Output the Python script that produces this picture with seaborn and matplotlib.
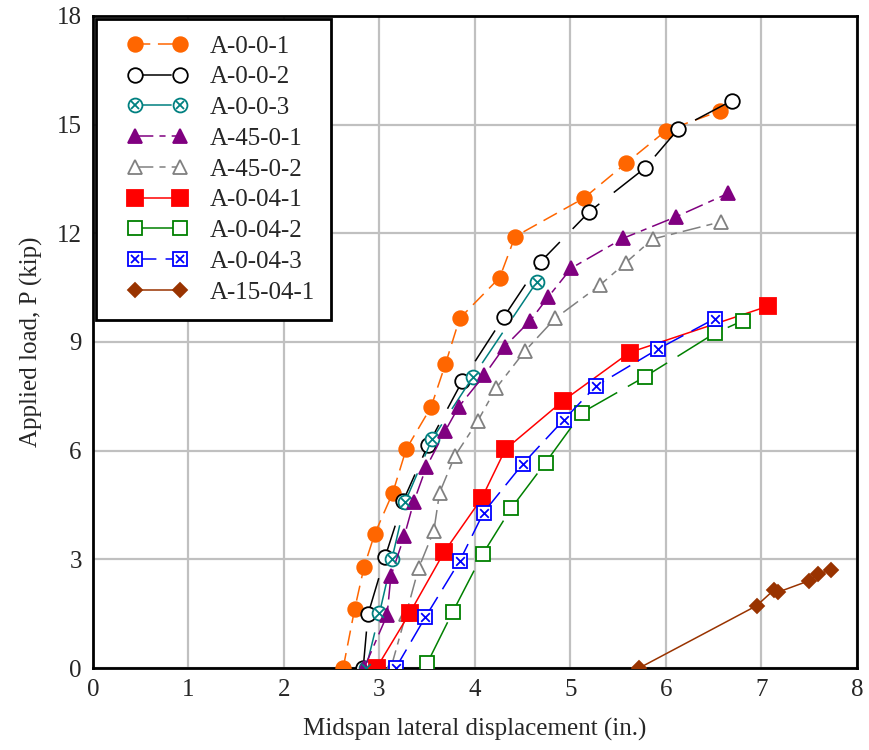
import matplotlib
matplotlib.use("Agg")
import matplotlib.pyplot as plt
import seaborn as sns
import pandas as pd
from matplotlib.lines import Line2D
from matplotlib.legend_handler import HandlerLine2D, HandlerTuple

# Load-displacement readings for each specimen (displacement in in., load in kip)
a_0_0_1_x = [2.62, 2.74, 2.84, 2.95, 3.14, 3.28, 3.54, 3.69, 3.84, 4.26, 4.42, 5.14, 5.58, 6.00, 6.57]
a_0_0_1_y = [0.00, 1.62, 2.80, 3.70, 4.84, 6.04, 7.20, 8.38, 9.65, 10.78, 11.91, 12.97, 13.93, 14.83, 15.38]

a_0_0_2_x = [2.83, 2.88, 3.06, 3.25, 3.51, 3.87, 4.30, 4.69, 5.20, 5.78, 6.13, 6.69]
a_0_0_2_y = [0.00, 1.48, 3.07, 4.62, 6.16, 7.93, 9.68, 11.22, 12.60, 13.80, 14.88, 15.66]

a_0_0_3_x = [2.86, 3.00, 3.13, 3.27, 3.55, 3.98, 4.65]
a_0_0_3_y = [0.00, 1.51, 3.00, 4.59, 6.31, 8.04, 10.67]

a_45_0_1_x = [2.84, 3.08, 3.12, 3.26, 3.36, 3.49, 3.69, 3.83, 4.10, 4.31, 4.58, 4.77, 5.01, 5.55, 6.11, 6.65]
a_45_0_1_y = [0.00, 1.46, 2.54, 3.64, 4.59, 5.54, 6.55, 7.21, 8.09, 8.87, 9.59, 10.25, 11.04, 11.86, 12.46, 13.10]

a_45_0_2_x = [3.12, 3.28, 3.41, 3.57, 3.63, 3.79, 4.03, 4.22, 4.52, 4.84, 5.31, 5.58, 5.86, 6.58]
a_45_0_2_y = [0.00, 1.50, 2.75, 3.79, 4.84, 5.85, 6.82, 7.72, 8.74, 9.65, 10.57, 11.19, 11.84, 12.32]

a_0_04_1_x = [2.97, 3.32, 3.68, 4.07, 4.32, 4.92, 5.62, 7.07]
a_0_04_1_y = [0.00, 1.53, 3.21, 4.68, 6.04, 7.37, 8.71, 9.99]

a_0_04_2_x = [3.50, 3.77, 4.08, 4.38, 4.74, 5.12, 5.78, 6.51, 6.81]
a_0_04_2_y = [0.13, 1.56, 3.14, 4.41, 5.67, 7.05, 8.04, 9.24, 9.59]

a_0_04_3_x = [3.17, 3.48, 3.84, 4.09, 4.50, 4.93, 5.27, 5.92, 6.51]
a_0_04_3_y = [0.00, 1.40, 2.95, 4.29, 5.63, 6.85, 7.79, 8.81, 9.64]

a_15_04_1_x = [5.72, 6.95, 7.13, 7.17, 7.50, 7.59, 7.73]
a_15_04_1_y = [0.00, 1.72, 2.15, 2.09, 2.41, 2.59, 2.71]

labels = ["A-0-0-1", "A-0-0-2", "A-0-0-3", "A-45-0-1", "A-45-0-2",
          "A-0-04-1", "A-0-04-2", "A-0-04-3", "A-15-04-1"]
xs = [a_0_0_1_x, a_0_0_2_x, a_0_0_3_x, a_45_0_1_x, a_45_0_2_x,
      a_0_04_1_x, a_0_04_2_x, a_0_04_3_x, a_15_04_1_x]
ys = [a_0_0_1_y, a_0_0_2_y, a_0_0_3_y, a_45_0_1_y, a_45_0_2_y,
      a_0_04_1_y, a_0_04_2_y, a_0_04_3_y, a_15_04_1_y]

x_ticks = [0, 1, 2, 3, 4, 5, 6, 7, 8]
y_ticks = [0, 3, 6, 9, 12, 15, 18]

# Per-series styling: colour, marker, filled?, extra cross, dash pattern, marker size
styles = [
    dict(color="#FF6600", marker="o", filled=True,  cross=False, dash=(10, 5),       ms=10.5),
    dict(color="#000000", marker="o", filled=False, cross=False, dash=(24, 12),      ms=10.5),
    dict(color="#008080", marker="o", filled=False, cross=True,  dash=(24, 12),      ms=10),
    dict(color="#800080", marker="^", filled=True,  cross=False, dash=(12, 4, 4, 4), ms=10.5),
    dict(color="#808080", marker="^", filled=False, cross=False, dash=(12, 4, 4, 4), ms=10.5),
    dict(color="#FF0000", marker="s", filled=True,  cross=False, dash=None,          ms=11),
    dict(color="#008000", marker="s", filled=False, cross=False, dash=(30, 8),       ms=9.5),
    dict(color="#0000FF", marker="s", filled=False, cross=True,  dash=(14, 6),       ms=10),
    dict(color="#993300", marker="D", filled=True,  cross=False, dash=None,          ms=7),
]

sns.set_style("white")
plt.rcParams["font.family"] = ["Liberation Serif", "DejaVu Serif"]

fig = plt.figure(figsize=(8.69, 7.5), dpi=100)
ax = fig.add_axes([0.107, 0.1093, 0.879, 0.8694])

LW = 1.1
handles = []
for lab, x, y, st in zip(labels, xs, ys, styles):
    df = pd.DataFrame({"disp": x, "load": y})
    ls = "-" if st["dash"] is None else (0, st["dash"])
    mfc = st["color"] if st["filled"] else "white"
    sns.lineplot(data=df, x="disp", y="load", ax=ax, sort=False, estimator=None,
                 color=st["color"], linestyle=ls, linewidth=LW,
                 marker=st["marker"], markersize=st["ms"], markerfacecolor=mfc,
                 markeredgecolor=st["color"], markeredgewidth=1.3, zorder=3)
    h = Line2D([], [], color=st["color"], linestyle=ls, linewidth=LW,
               marker=st["marker"], markersize=st["ms"], markerfacecolor=mfc,
               markeredgecolor=st["color"], markeredgewidth=1.3)
    if st["cross"]:
        sns.scatterplot(data=df, x="disp", y="load", ax=ax, marker="x",
                        s=(st["ms"] * 0.62) ** 2, color=st["color"],
                        linewidth=1.3, zorder=4)
        hx = Line2D([], [], linestyle="none", marker="x", color=st["color"],
                    markersize=st["ms"] * 0.62, markeredgewidth=1.3)
        h = (h, hx)
    handles.append(h)

ax.set_xlim(0, 8)
ax.set_ylim(0, 18)
ax.set_xticks(x_ticks)
ax.set_yticks(y_ticks)
ax.tick_params(axis="both", labelsize=18, length=0, pad=8)
ax.grid(True, color="#c0c0c0", linewidth=1.6, zorder=0)
ax.set_axisbelow(True)
for sp in ax.spines.values():
    sp.set_color("black")
    sp.set_linewidth(2.0)

ax.set_xlabel("Midspan lateral displacement (in.)", fontsize=18, labelpad=12)
ax.set_ylabel("Applied load, P (kip)", fontsize=18, labelpad=10)

leg = ax.legend(handles, labels, loc="upper left", bbox_to_anchor=(0.0, 1.0),
                fontsize=18, numpoints=2, handlelength=3.6, handletextpad=0.3,
                labelspacing=0.33, borderpad=0.65, borderaxespad=0.12,
                fancybox=False, framealpha=1, edgecolor="black",
                handler_map={Line2D: HandlerLine2D(marker_pad=0.9),
                             tuple: HandlerTuple(ndivide=1)})
leg.get_frame().set_linewidth(2.0)

fig.savefig("out.png", dpi=100)
